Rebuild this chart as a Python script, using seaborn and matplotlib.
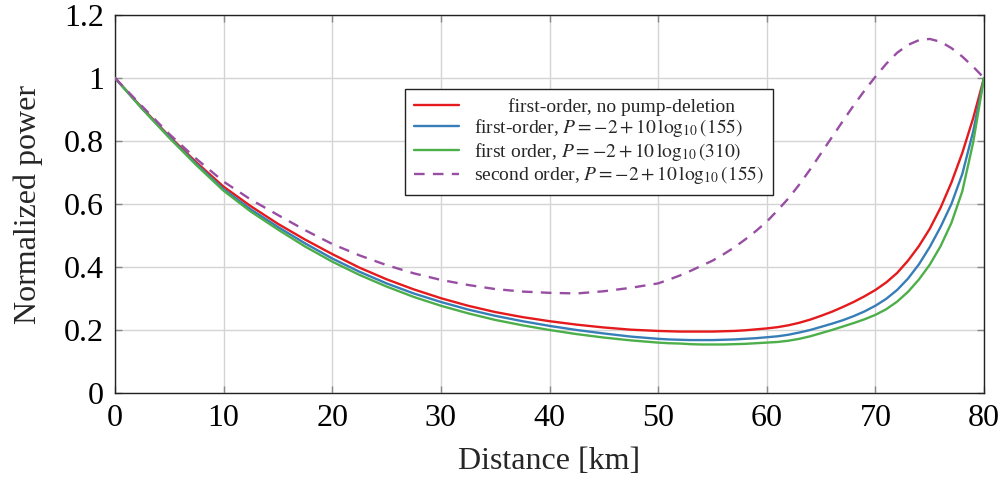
import numpy as np
import pandas as pd
import matplotlib
matplotlib.use("Agg")
import matplotlib.pyplot as plt
import seaborn as sns
from matplotlib.ticker import FuncFormatter

# ---- data ----
distance = [0, 2.5, 5, 7.5, 10, 12.5, 15, 17.5, 20, 22.5, 25, 27.5, 30, 32.5, 35,
            37.5, 40, 42.5, 45, 47.5,
            50, 51, 52, 53, 54, 55, 56, 57, 58, 59, 60, 61, 62, 63, 64, 65, 66, 67,
            68, 69, 70, 71, 72, 73, 74, 75, 76, 77, 78, 79, 80]

first_no_depletion = [1.0, 0.905, 0.815, 0.732, 0.655, 0.593, 0.537, 0.487, 0.441, 0.398,
                      0.361, 0.329, 0.301, 0.277, 0.257, 0.241, 0.228, 0.217, 0.208, 0.201,
                      0.197, 0.196, 0.195, 0.195, 0.195, 0.195, 0.196, 0.197, 0.199, 0.202,
                      0.205, 0.209, 0.215, 0.223, 0.233, 0.245, 0.258, 0.273, 0.289, 0.307,
                      0.327, 0.351, 0.381, 0.420, 0.466, 0.521, 0.588, 0.668, 0.762, 0.872,
                      1.0]

first_155 = [1.0, 0.903, 0.812, 0.727, 0.647, 0.583, 0.527, 0.475, 0.427, 0.385,
             0.348, 0.316, 0.289, 0.265, 0.245, 0.228, 0.213, 0.200, 0.189, 0.179,
             0.172, 0.170, 0.169, 0.168, 0.168, 0.168, 0.169, 0.170, 0.172, 0.174,
             0.177, 0.180, 0.185, 0.192, 0.200, 0.210, 0.220, 0.231, 0.244, 0.259,
             0.277, 0.299, 0.327, 0.363, 0.408, 0.463, 0.527, 0.600, 0.695, 0.830,
             1.0]

first_310 = [1.0, 0.902, 0.810, 0.723, 0.642, 0.576, 0.519, 0.465, 0.417, 0.375,
             0.338, 0.305, 0.277, 0.253, 0.232, 0.215, 0.200, 0.187, 0.176, 0.167,
             0.160, 0.158, 0.157, 0.155, 0.154, 0.154, 0.154, 0.155, 0.156, 0.158,
             0.160, 0.162, 0.166, 0.172, 0.180, 0.190, 0.200, 0.211, 0.222, 0.234,
             0.248, 0.266, 0.290, 0.321, 0.360, 0.407, 0.466, 0.540, 0.640, 0.795,
             1.0]

second_155 = [1.0, 0.910, 0.822, 0.743, 0.671, 0.614, 0.565, 0.517, 0.473, 0.437,
              0.406, 0.380, 0.359, 0.343, 0.330, 0.322, 0.318, 0.316, 0.323, 0.334,
              0.348, 0.360, 0.373, 0.388, 0.404, 0.420, 0.440, 0.462, 0.487, 0.514,
              0.544, 0.580, 0.618, 0.662, 0.710, 0.761, 0.812, 0.863, 0.913, 0.960,
              1.004, 1.045, 1.080, 1.105, 1.120, 1.124, 1.115, 1.095, 1.068, 1.036,
              1.0]

labels = ["first-order, no pump-deletion",
          r"first-order, $P = -2 + 10\,\log_{10}(155)$",
          r"first order, $P = -2 + 10\,\log_{10}(310)$",
          r"second order, $P = -2 + 10\,\log_{10}(155)$"]

x_ticks = [0, 10, 20, 30, 40, 50, 60, 70, 80]
y_ticks = [0, 0.2, 0.4, 0.6, 0.8, 1.0, 1.2]

# ---- style ----
sns.set_theme(style="whitegrid")
plt.rcParams["font.family"] = ["Liberation Serif", "DejaVu Serif"]
plt.rcParams["mathtext.fontset"] = "stix"

pal = sns.color_palette("Set1")
colors = [pal[0], pal[1], pal[2], pal[3]]

fig = plt.figure(figsize=(10.05, 4.8), dpi=100)
ax = fig.add_axes([115 / 1005, 1 - 393 / 480, (984 - 115) / 1005, (393 - 15) / 480])

series = [first_no_depletion, first_155, first_310, second_155]
for i, (vals, lab) in enumerate(zip(series, labels)):
    df = pd.DataFrame({"Distance": distance, "Power": vals})
    sns.lineplot(data=df, x="Distance", y="Power", ax=ax, color=colors[i],
                 linewidth=1.7, label=lab, zorder=3 + i)
    if i == 3:
        ax.lines[-1].set_dashes((4.5, 3.5))

ax.set_xlim(0, 80)
ax.set_ylim(0, 1.2)
ax.set_xticks(x_ticks)
ax.set_yticks(y_ticks)
ax.yaxis.set_major_formatter(FuncFormatter(lambda v, p: f"{v:g}"))
ax.xaxis.set_major_formatter(FuncFormatter(lambda v, p: f"{v:g}"))

ax.grid(True, color="#d4d4d4", linewidth=1.0)
ax.set_facecolor("white")
for s in ax.spines.values():
    s.set_color("#222222")
    s.set_linewidth(1.0)
    s.set_visible(True)
ax.tick_params(axis="both", which="major", direction="in", length=5, width=1,
               color="#888888", labelsize=23, labelcolor="black",
               top=True, right=True, bottom=True, left=True, pad=8)

ax.set_xlabel("Distance [km]", fontsize=23, labelpad=10)
ax.set_ylabel("Normalized power", fontsize=23, labelpad=15)

leg_labels = ["       " + labels[0], labels[1], labels[2], labels[3]]
handles, _ = ax.get_legend_handles_labels()
leg = ax.legend(handles, leg_labels, loc="upper left", bbox_to_anchor=(0.334, 0.804),
                fontsize=14, frameon=True, fancybox=False, edgecolor="#222222",
                framealpha=1, handlelength=2.3, handletextpad=0.8, borderpad=0.45,
                labelspacing=0.08, borderaxespad=0)
leg.get_frame().set_linewidth(1.0)
leg.get_lines()[3].set_dashes((4.5, 3.5))

fig.savefig("out.png", dpi=100)
